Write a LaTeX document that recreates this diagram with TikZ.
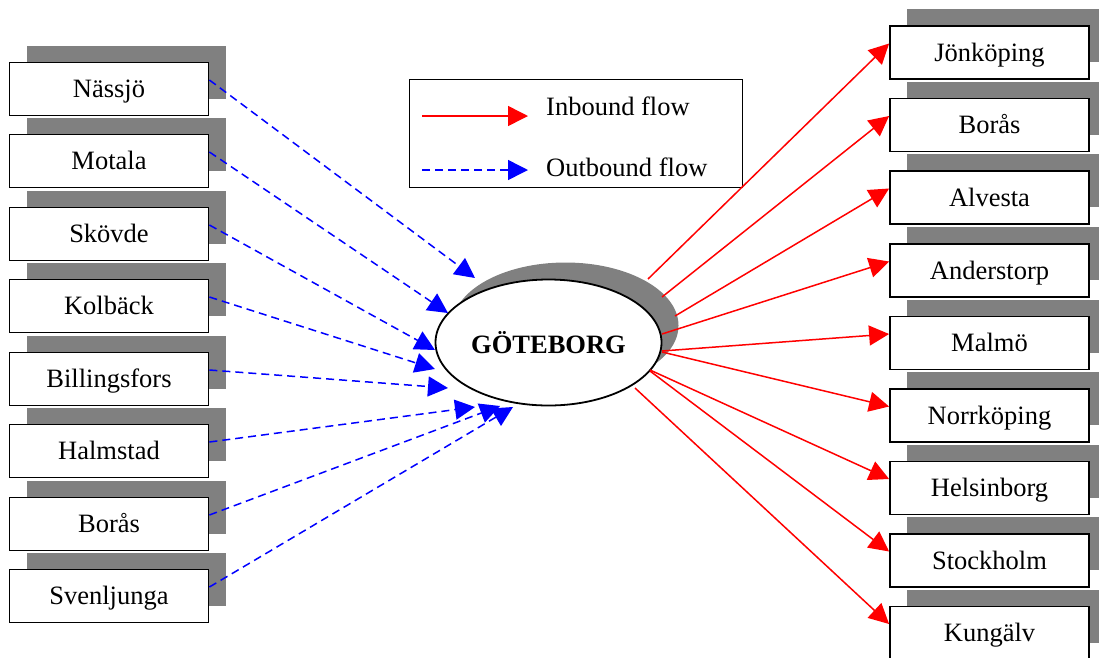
\documentclass[tikz,border=0pt]{standalone}
\usepackage{fontspec}
\setmainfont{Liberation Serif}
\usetikzlibrary{arrows.meta,shapes.geometric,shadows}
\definecolor{shadowgray}{RGB}{128,128,128}
\begin{document}
\begin{tikzpicture}[x=1pt,y=-1pt,
  lbl/.style={font=\fontsize{26.5}{31}\selectfont},
  boxshadow/.style={general shadow={fill=shadowgray, shadow xshift=17pt, shadow yshift=17pt}},
  city/.style={draw, line width=1.8pt, fill=white, boxshadow,
    minimum width=199pt, minimum height=53pt, inner sep=0pt,
    text height=17.5pt, text depth=0pt, lbl},
  hub/.style={ellipse, draw, line width=1.8pt, fill=white, boxshadow,
    minimum width=226pt, minimum height=126pt, inner sep=0pt,
    font=\fontsize{26.5}{31}\selectfont\bfseries},
  tip/.style={-{Triangle[length=20pt,width=20pt]}},
  inflow/.style={draw=red, line width=1.5pt, tip},
  outflow/.style={draw=blue, line width=1.5pt, dash pattern=on 8pt off 5pt, tip}]
\useasboundingbox (0,0) rectangle (1099,657);
\clip (0,0) rectangle (1099,657);

% origin terminals (left column)
\node[city] (L1) at (109,89)  {Nässjö};
\node[city] (L2) at (109,161) {Motala};
\node[city] (L3) at (109,234) {Skövde};
\node[city] (L4) at (109,306) {Kolbäck};
\node[city] (L5) at (109,379) {Billingsfors};
\node[city] (L6) at (109,451) {Halmstad};
\node[city] (L7) at (109,524) {Borås};
\node[city] (L8) at (109,596) {Svenljunga};

% destination terminals (right column)
\node[city] (R1) at (989.5,52.5)  {Jönköping};
\node[city] (R2) at (989.5,125)   {Borås};
\node[city] (R3) at (989.5,197.5) {Alvesta};
\node[city] (R4) at (989.5,270.5) {Anderstorp};
\node[city] (R5) at (989.5,343)   {Malmö};
\node[city] (R6) at (989.5,415.5) {Norrköping};
\node[city] (R7) at (989.5,488)   {Helsinborg};
\node[city] (R8) at (989.5,560.5) {Stockholm};
\node[city] (R9) at (989.5,633)   {Kungälv};

% central hub
\node[hub] (G) at (548.5,342.5) {GÖTEBORG};

% legend
\node[draw, line width=1.8pt, minimum width=333pt, minimum height=108pt, inner sep=0pt] (key) at (576,133.5) {};
\coordinate (kia) at (422,116);
\coordinate (kib) at (528,116);
\coordinate (koa) at (422,170);
\coordinate (kob) at (528,170);
\draw[inflow] (kia) -- (kib);
\draw[outflow] (koa) -- (kob);
\node[lbl, anchor=base west, inner sep=0pt] (kin) at (546,115) {Inbound flow};
\node[lbl, anchor=base west, inner sep=0pt] (kout) at (546,176) {Outbound flow};

% arrival points around the hub
\coordinate (a1) at (475,278);
\coordinate (a2) at (448,313);
\coordinate (a3) at (435,350);
\coordinate (a4) at (435,369);
\coordinate (a5) at (448,388);
\coordinate (a6) at (475,407);
\coordinate (a7) at (500,406);
\coordinate (a8) at (513,407);

% departure points on the hub rim
\coordinate (d1) at (648,279);
\coordinate (d2) at (662,297);
\coordinate (d3) at (675,316);
\coordinate (d4) at (662,334);
\coordinate (d5) at (662,351);
\coordinate (d6) at (662,352);
\coordinate (d7) at (650,370);
\coordinate (d8) at (650,371);
\coordinate (d9) at (635,388);

% flows into the hub
\foreach \i in {1,...,8}
  \draw[outflow] ([yshift=9pt]L\i.east) -- (a\i);

% flows out of the hub
\foreach \i in {1,...,9}
  \draw[inflow] (d\i) -- ([yshift=9pt]R\i.west);
\end{tikzpicture}
\end{document}
